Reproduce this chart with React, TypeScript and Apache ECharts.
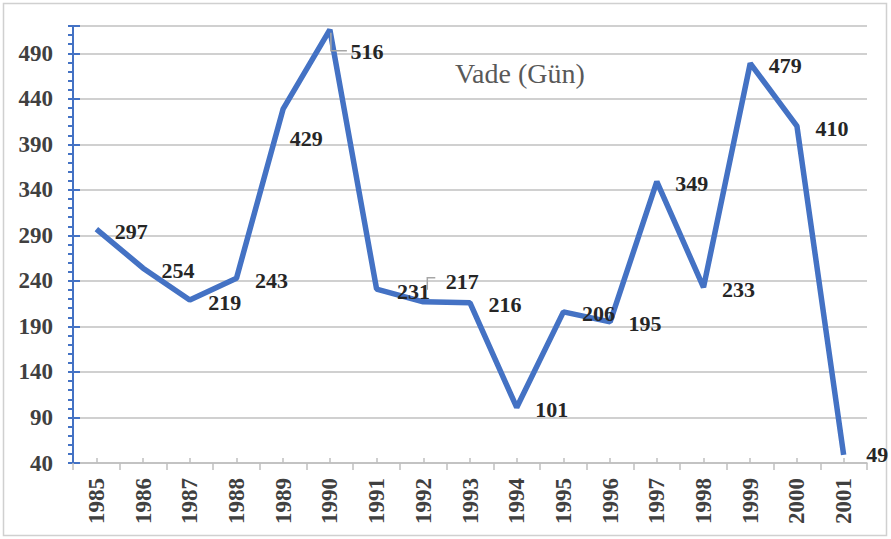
import React, { useEffect, useRef } from "react";
import * as echarts from "echarts";

const years = ["1985","1986","1987","1988","1989","1990","1991","1992","1993","1994","1995","1996","1997","1998","1999","2000","2001"];
const vade = [297, 254, 219, 243, 429, 516, 231, 217, 216, 101, 206, 195, 349, 233, 479, 410, 49];
const title = "Vade (Gün)";

export default function App() {
  const ref = useRef<HTMLDivElement>(null);
  useEffect(() => {
    document.body.style.margin = "0";
    const chart = echarts.init(ref.current!, null, { renderer: "svg" });
    const font = "'Liberation Serif', 'Times New Roman', serif";
    const yBase = { type: "value", min: 40, max: 520, interval: 50 };
    chart.setOption({
      animation: false,
      backgroundColor: "#ffffff",
      graphic: [
        { id: "border", type: "rect", shape: { x: 3.5, y: 3.5, width: 883, height: 532 }, style: { fill: "none", stroke: "#d0d0d0", lineWidth: 1.5 }, z: -1 },
        { id: "title", type: "text", left: 455, top: 59, style: { text: title, font: `28px ${font}`, fill: "#595959" } },
      ],
      grid: { left: 73, right: 24, top: 26, bottom: 76 },
      xAxis: [
        {
          type: "category",
          data: years,
          boundaryGap: true,
          axisLine: { lineStyle: { color: "#bfbfbf", width: 1.5 } },
          axisTick: { show: true, length: 7, lineStyle: { color: "#bfbfbf", width: 1.5 } },
          axisLabel: { rotate: 90, margin: 15, fontFamily: "Liberation Serif", fontWeight: "bold", fontSize: 23, color: "#404040" },
        },
        {
          type: "category",
          data: years,
          position: "bottom",
          boundaryGap: true,
          axisLine: { show: false },
          axisTick: { show: true, inside: true, alignWithLabel: true, length: 5, lineStyle: { color: "#bfbfbf", width: 1.5 } },
          axisLabel: { show: false },
        },
      ],
      yAxis: [
        {
          ...yBase,
          axisLine: { show: true, lineStyle: { color: "#4472C4", width: 2 } },
          axisTick: { show: true, length: 5, lineStyle: { color: "#4472C4", width: 2 } },
          minorTick: { show: true, splitNumber: 5, length: 5, lineStyle: { color: "#4472C4", width: 2 } },
          splitLine: { show: true, lineStyle: { color: "#d0d0d0", width: 2 } },
          axisLabel: {
            margin: 20,
            fontFamily: "Liberation Serif",
            fontWeight: "bold",
            fontSize: 23,
            color: "#404040",
            formatter: (v: number) => (v > 500 ? "" : String(v)),
          },
        },
        {
          ...yBase,
          position: "left",
          axisLine: { show: false },
          axisTick: { show: true, inside: true, length: 7, lineStyle: { color: "#4472C4", width: 2 } },
          splitLine: { show: false },
          axisLabel: { show: false },
        },
      ],
      series: [
        {
          type: "line",
          data: vade,
          showSymbol: true,
          symbol: "circle",
          symbolSize: 1,
          itemStyle: { color: "rgba(0,0,0,0)" },
          lineStyle: { color: "#4472C4", width: 5.5 },
          label: {
            show: true,
            position: "right",
            distance: 18,
            fontFamily: "Liberation Serif",
            fontWeight: "bold",
            fontSize: 22,
            color: "#262626",
          },
          labelLayout: (p: any) => {
            if (p.dataIndex === 4) return { dx: -12, dy: 30 };
            if (p.dataIndex === 5) return { dx: 2, dy: 22 };
            if (p.dataIndex === 7) return { dx: 4, dy: -20 };
            if (p.dataIndex === 6) return { dx: 2, dy: 2 };
            if (p.dataIndex === 16) return { dx: 4, dy: 0 };
            return { dy: 2 };
          },
        },
      ],
    });
    const p5 = chart.convertToPixel({ xAxisIndex: 0, yAxisIndex: 0 }, [years[5], vade[5]]);
    const p7 = chart.convertToPixel({ xAxisIndex: 0, yAxisIndex: 0 }, [years[7], vade[7]]);
    const leader = { stroke: "#a6a6a6", lineWidth: 1.5, fill: "none" };
    chart.setOption({
      graphic: [
        { id: "lead5", type: "polyline", shape: { points: [[p5[0] + 1, p5[1] + 3], [p5[0] + 1, p5[1] + 21], [p5[0] + 17, p5[1] + 21]] }, style: leader, z: 10 },
        { id: "lead7", type: "polyline", shape: { points: [[p7[0] + 4, p7[1] - 12], [p7[0] + 4, p7[1] - 24], [p7[0] + 12, p7[1] - 24]] }, style: leader, z: 10 },
      ],
    });
    return () => chart.dispose();
  }, []);
  return <div ref={ref} style={{ width: 891, height: 539 }} />;
}
